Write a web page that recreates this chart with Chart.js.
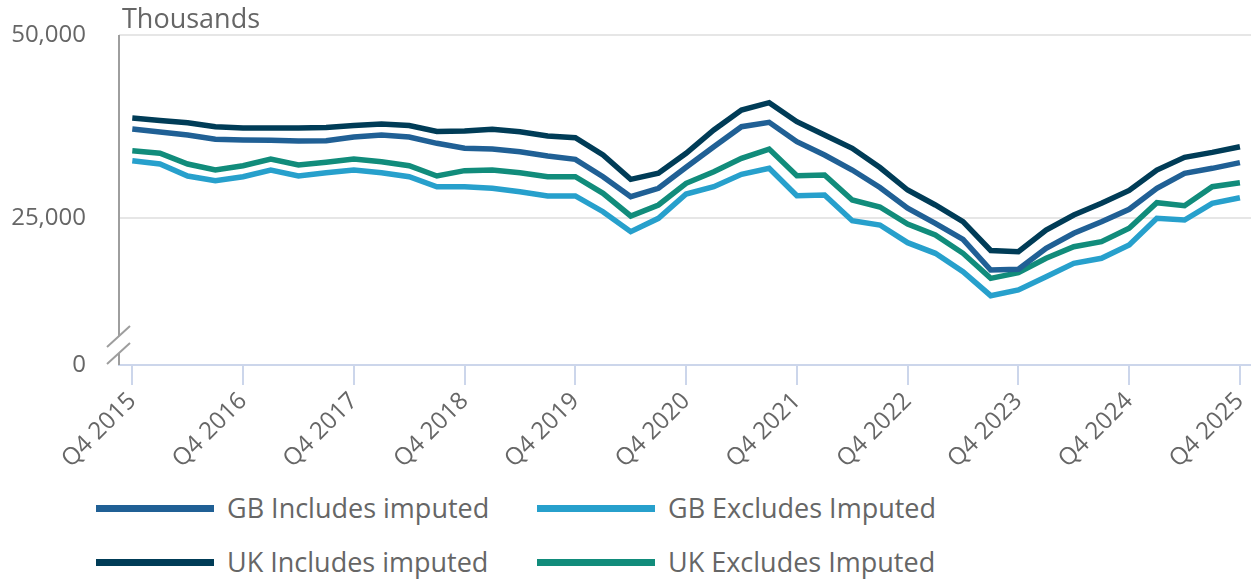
<!DOCTYPE html>
<html>
<head>
<meta charset="utf-8">
<script src="https://cdn.jsdelivr.net/npm/chart.js@4/dist/chart.umd.min.js"></script>
<style>
  html, body { margin: 0; padding: 0; background: #fff; }
  #wrap { position: relative; width: 1251px; height: 580px; font-family: 'Open Sans', sans-serif; color: #666; }
  #c { position: absolute; left: 0; top: 0; }
  #unit { position: absolute; left: 122px; top: 4px; font-size: 27px; line-height: 27px; color: #666; white-space: nowrap; }
  .lg-sym { position: absolute; width: 118px; height: 7px; }
  .lg-txt { position: absolute; font-size: 27px; line-height: 27px; color: #666; white-space: nowrap; }
</style>
</head>
<body>
<div id="wrap">
  <canvas id="c" width="1251" height="470"></canvas>
  <div id="unit">Thousands</div>
  <div id="legend"></div>
</div>
<script>
// ---- Data ----
const quarters = [
  'Q4 2015','Q1 2016','Q2 2016','Q3 2016','Q4 2016','Q1 2017','Q2 2017','Q3 2017',
  'Q4 2017','Q1 2018','Q2 2018','Q3 2018','Q4 2018','Q1 2019','Q2 2019','Q3 2019',
  'Q4 2019','Q1 2020','Q2 2020','Q3 2020','Q4 2020','Q1 2021','Q2 2021','Q3 2021',
  'Q4 2021','Q1 2022','Q2 2022','Q3 2022','Q4 2022','Q1 2023','Q2 2023','Q3 2023',
  'Q4 2023','Q1 2024','Q2 2024','Q3 2024','Q4 2024','Q1 2025','Q2 2025','Q3 2025',
  'Q4 2025'
];
const gbIncludes = [
  37180,36770,36360,35780,35680,35640,35550,35590,36090,36360,36090,35230,34550,34450,34090,33500,
  33050,30680,27950,29100,31960,34770,37500,38100,35450,33640,31590,29200,26370,24320,22140,17950,
  18050,20910,22960,24540,26230,29100,31140,31820,32590
];
const gbExcludes = [
  32860,32410,30770,30130,30680,31590,30770,31220,31590,31220,30680,29310,29310,29100,28630,28050,
  28050,25900,23180,25000,28320,29310,31000,31820,28090,28180,24680,24090,21680,20230,17730,14450,
  15230,17040,18870,19550,21360,25000,24770,27050,27810
];
const ukIncludes = [
  38680,38340,38030,37500,37320,37320,37320,37390,37660,37860,37660,36840,36910,37140,36810,36230,
  36000,33640,30320,31140,33870,37050,39770,40770,38180,36360,34550,31930,28860,26820,24540,20610,
  20450,23410,25450,27050,28800,31590,33320,34000,34770
];
const ukExcludes = [
  34220,33870,32410,31590,32180,33090,32270,32640,33090,32720,32180,30770,31500,31590,31220,30680,
  30680,28410,25320,26820,29780,31360,33190,34450,30820,30910,27500,26550,24230,22730,20230,16820,
  17590,19550,21130,21820,23640,27130,26720,29310,29860
];
const seriesNames = ['GB Includes imputed', 'GB Excludes Imputed', 'UK Includes imputed', 'UK Excludes Imputed'];
const seriesColors = ['#206095', '#27a0cc', '#003c57', '#118c7b'];
const yTickValues = [5000, 25000, 50000];
const yTickLabels = ['0', '25,000', '50,000'];
const xTickEvery = 4;

// ---- Build ----
const allSeries = [gbIncludes, gbExcludes, ukIncludes, ukExcludes];
const datasets = allSeries.map((vals, k) => ({
  label: seriesNames[k],
  data: vals.map((v, i) => ({ x: i, y: v })),
  borderColor: seriesColors[k],
  backgroundColor: seriesColors[k],
  borderWidth: 5.5,
  pointRadius: 0,
  pointHoverRadius: 0,
  tension: 0,
  fill: false
}));

const axisBreak = {
  id: 'axisBreak',
  afterDraw(chart) {
    const { ctx, chartArea: { left, top, bottom } } = chart;
    ctx.save();
    ctx.strokeStyle = '#9e9e9e';
    ctx.lineWidth = 2;
    ctx.beginPath();
    ctx.moveTo(left, top);
    ctx.lineTo(left, bottom - 29);
    ctx.moveTo(left, bottom - 12);
    ctx.lineTo(left, bottom);
    ctx.moveTo(left - 12, bottom - 18);
    ctx.lineTo(left + 11, bottom - 39);
    ctx.moveTo(left - 12, bottom - 1);
    ctx.lineTo(left + 11, bottom - 22);
    ctx.stroke();
    ctx.restore();
  }
};

Chart.defaults.font.family = "'Open Sans', sans-serif";
Chart.defaults.color = '#666';

const chart = new Chart(document.getElementById('c'), {
  type: 'line',
  data: { datasets },
  options: {
    responsive: false,
    animation: false,
    layout: { padding: { top: 35, right: 0, left: 0, bottom: 0 } },
    plugins: { legend: { display: false }, tooltip: { enabled: false } },
    scales: {
      x: {
        type: 'linear',
        min: -0.48,
        max: 40.4,
        afterBuildTicks: s => {
          s.ticks = quarters.map((q, i) => i).filter(i => i % xTickEvery === 0).map(v => ({ value: v }));
        },
        afterFit: s => { s.height = 105; s.paddingRight = 0; s.paddingLeft = 0; s.paddingTop = 0; s.paddingBottom = 0; },
        ticks: {
          autoSkip: false,
          minRotation: 45,
          maxRotation: 45,
          padding: 2,
          font: { size: 24 },
          color: '#666',
          callback: v => quarters[v]
        },
        grid: { drawOnChartArea: false, drawTicks: true, tickLength: 20, color: '#ccd6eb', lineWidth: 2 },
        border: { color: '#ccd6eb', width: 2 }
      },
      y: {
        min: 5000,
        max: 50000,
        afterBuildTicks: s => { s.ticks = yTickValues.map(v => ({ value: v })); },
        afterFit: s => { s.width = 119; s.paddingTop = 0; s.paddingBottom = 0; s.paddingLeft = 0; s.paddingRight = 0; },
        ticks: {
          padding: 33,
          font: { size: 24 },
          color: '#666',
          callback: (v, i) => yTickLabels[i]
        },
        grid: {
          drawTicks: false,
          lineWidth: 2,
          color: c => (c.tick && c.tick.value === yTickValues[0]) ? 'rgba(0,0,0,0)' : '#e6e6e6'
        },
        border: { display: false }
      }
    }
  },
  plugins: [axisBreak]
});

// HTML legend built from chart's datasets
const legendEl = document.getElementById('legend');
const colLeft = [96, 537];
const rowCenter = [508, 562];
chart.data.datasets.forEach((ds, k) => {
  const col = k % 2, row = Math.floor(k / 2);
  const sym = document.createElement('div');
  sym.className = 'lg-sym';
  sym.style.left = colLeft[col] + 'px';
  sym.style.top = (rowCenter[row] - 3.5) + 'px';
  sym.style.background = ds.borderColor;
  legendEl.appendChild(sym);
  const txt = document.createElement('div');
  txt.className = 'lg-txt';
  txt.style.left = (colLeft[col] + 131) + 'px';
  txt.style.top = (rowCenter[row] - 14) + 'px';
  txt.textContent = ds.label;
  legendEl.appendChild(txt);
});
</script>
</body>
</html>
